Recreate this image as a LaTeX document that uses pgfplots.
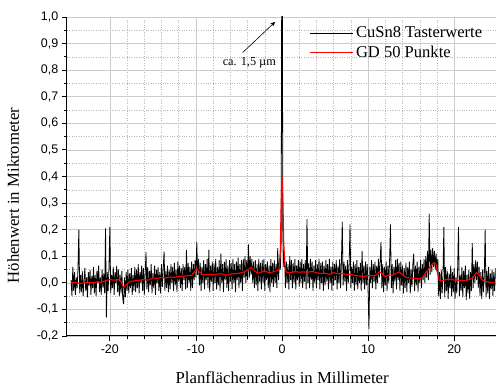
\documentclass[border=0pt]{standalone}
\usepackage{fontspec}
\setmainfont{Liberation Serif}
\newfontfamily\arialfont{Liberation Sans}
\usepackage{pgfplots}
\pgfplotsset{compat=1.18}
\usetikzlibrary{arrows.meta}
\pgfplotsset{
  longline legend/.style={legend image code/.code={\draw[##1] (0pt,0pt) -- (44pt,0pt);}},
}
\begin{document}
\begin{tikzpicture}
\begin{axis}[
  scale only axis, width=430pt, height=320pt,
  xmin=-25, xmax=24.8, ymin=-0.2, ymax=1.0,
  axis lines*=left,
  axis line style={black, line width=1pt},
  xtick={-20,-10,0,10,20}, minor x tick num=4,
  ytick={-0.2,-0.1,0,0.1,0.2,0.3,0.4,0.5,0.6,0.7,0.8,0.9,1.0}, minor y tick num=1,
  grid=both,
  major grid style={gray!40, line width=0.6pt},
  minor grid style={gray!55, dotted, line width=0.5pt},
  tick align=outside, major tick length=5pt, minor tick length=3pt,
  tick style={black, line width=0.8pt},
  /pgf/number format/assume math mode=true,
  ticklabel style={font=\arialfont\fontsize{12.5}{14}\selectfont},
  yticklabel style={/pgf/number format/.cd, fixed, fixed zerofill, precision=1, use comma},
  xlabel={Planflächenradius in Millimeter},
  ylabel={Höhenwert in Mikrometer},
  label style={font=\fontsize{16.8}{19}\selectfont},
  xlabel style={inner sep=0pt, yshift=-14.8pt, xshift=1pt},
  ylabel style={yshift=11pt, xshift=-19pt},
  legend style={draw=none, fill=none, at={(0.981,0.982)}, anchor=north east,
    font=\fontsize{16.6}{19}\selectfont, row sep=3pt},
  legend cell align=left,
  longline legend,
]
\addplot[black, line width=0.8pt] coordinates {
(-24.5,0.01)(-24.4,-0.05)(-24.3,0.06)(-24.2,-0.03)(-24.1,0.04)(-24.0,-0.045)(-23.9,0.02)(-23.8,-0.02)(-23.7,0.05)(-23.6,0.20)
(-23.5,-0.04)(-23.4,0.03)(-23.3,-0.035)(-23.2,0.045)(-23.1,-0.05)(-23.0,0.01)(-22.9,0.055)(-22.8,-0.03)(-22.7,0.02)(-22.6,-0.055)
(-22.5,0.04)(-22.4,-0.01)(-22.3,0.05)(-22.2,-0.045)(-22.1,0.025)(-22.0,-0.02)(-21.9,0.06)(-21.8,-0.04)(-21.7,0.03)(-21.6,-0.05)
(-21.5,0.045)(-21.4,0.0)(-21.3,0.065)(-21.2,-0.035)(-21.1,0.02)(-21.0,-0.045)(-20.9,0.05)(-20.8,-0.02)(-20.7,0.035)(-20.6,-0.04)
(-20.5,0.205)(-20.4,-0.13)(-20.3,0.04)(-20.2,-0.03)(-20.1,0.055)(-20.0,0.21)(-19.9,-0.04)(-19.8,0.03)(-19.7,-0.02)(-19.6,0.06)
(-19.5,-0.045)(-19.4,0.04)(-19.3,0.0)(-19.2,0.065)(-19.1,-0.035)(-19.0,0.05)(-18.9,-0.05)(-18.8,0.03)(-18.7,-0.04)(-18.6,0.045)
(-18.5,-0.06)(-18.4,-0.08)(-18.3,0.02)(-18.2,-0.055)(-18.1,0.04)(-18.0,-0.03)(-17.9,0.05)(-17.8,-0.04)(-17.7,0.035)(-17.6,-0.02)
(-17.5,0.055)(-17.4,-0.045)(-17.3,0.03)(-17.2,-0.03)(-17.1,0.06)
(-17.0,-0.035)(-16.9,0.05)(-16.8,-0.02)(-16.7,0.07)(-16.6,-0.04)(-16.5,0.04)(-16.4,0.0)(-16.3,0.065)(-16.2,-0.03)(-16.1,0.055)
(-16.0,-0.045)(-15.9,0.03)(-15.8,0.115)(-15.7,-0.025)(-15.6,0.06)(-15.5,-0.035)(-15.4,0.045)(-15.3,-0.01)(-15.2,0.07)(-15.1,-0.04)
(-15.0,0.035)(-14.9,-0.02)(-14.8,0.065)(-14.7,-0.045)(-14.6,0.05)(-14.5,0.0)(-14.4,0.06)(-14.3,-0.03)(-14.2,0.04)(-14.1,-0.04)
(-14.0,0.07)(-13.9,-0.015)(-13.8,0.055)(-13.7,0.117)(-13.6,-0.03)(-13.5,0.045)(-13.4,-0.02)(-13.3,0.065)(-13.2,-0.035)(-13.1,0.05)
(-13.0,-0.025)(-12.9,0.07)(-12.8,0.0)(-12.7,0.06)(-12.6,-0.03)(-12.5,0.075)(-12.4,-0.01)(-12.3,0.05)(-12.2,-0.035)(-12.1,0.08)
(-12.0,0.005)(-11.9,0.065)(-11.8,-0.02)(-11.7,0.055)(-11.6,-0.03)(-11.5,0.07)(-11.4,0.01)(-11.3,0.06)(-11.2,-0.025)(-11.1,0.124)
(-11.0,-0.02)(-10.9,0.075)(-10.8,0.0)(-10.7,0.06)(-10.6,-0.03)(-10.5,0.08)
(-10.4,-0.02)(-10.3,0.07)(-10.2,0.01)(-10.1,0.085)(-10.0,0.02)(-9.9,0.154)(-9.8,0.03)(-9.7,0.09)(-9.6,-0.01)(-9.5,0.075)
(-9.4,-0.03)(-9.3,0.06)(-9.2,0.0)(-9.1,0.085)(-9.0,-0.025)(-8.9,0.07)(-8.8,0.01)(-8.7,0.09)(-8.6,-0.02)(-8.5,0.125)
(-8.4,-0.035)(-8.3,0.065)(-8.2,0.005)(-8.1,0.08)(-8.0,-0.03)(-7.9,0.075)(-7.8,0.0)(-7.7,0.09)(-7.6,-0.025)(-7.5,0.06)
(-7.4,-0.01)(-7.3,0.085)(-7.2,-0.03)(-7.1,0.11)(-7.0,0.0)(-6.9,0.07)(-6.8,-0.035)(-6.7,0.08)(-6.6,0.01)(-6.5,0.09)
(-6.4,-0.02)(-6.3,0.065)(-6.2,-0.03)(-6.1,0.085)(-6.0,0.005)(-5.9,0.075)(-5.8,-0.025)(-5.7,0.09)(-5.6,0.0)(-5.5,0.07)
(-5.4,-0.035)(-5.3,0.08)(-5.2,0.01)(-5.1,0.095)(-5.0,-0.02)(-4.9,0.07)(-4.8,0.0)(-4.7,0.085)(-4.6,-0.03)(-4.5,0.09)
(-4.4,0.02)(-4.3,0.1)(-4.2,0.0)(-4.1,0.085)(-4.0,0.01)(-3.9,0.145)(-3.8,0.02)(-3.7,0.1)(-3.6,0.03)(-3.5,0.09)
(-3.4,0.0)(-3.3,0.08)(-3.2,-0.02)(-3.1,0.085)(-3.0,-0.01)(-2.9,0.07)(-2.8,-0.03)(-2.7,0.09)(-2.6,0.005)(-2.5,0.075)
(-2.4,-0.025)(-2.3,0.085)(-2.2,0.0)(-2.1,0.09)(-2.0,-0.03)(-1.9,0.07)(-1.8,0.01)(-1.7,0.08)(-1.6,-0.02)(-1.5,0.065)
(-1.4,-0.035)(-1.3,0.09)(-1.2,0.0)(-1.1,0.075)(-1.0,-0.015)(-0.9,0.085)(-0.8,0.0)(-0.7,0.07)(-0.6,-0.02)(-0.5,0.13)
(-0.4,0.01)(-0.3,0.09)(-0.2,0.05)(-0.1,0.15)(0.0,1.6)(0.1,0.2)(0.2,0.06)
(0.3,0.1)(0.4,-0.02)(0.5,0.08)(0.6,0.0)(0.7,0.07)(0.8,-0.025)(0.9,0.1)(1.0,0.01)(1.1,0.085)(1.2,-0.02)
(1.3,0.075)(1.4,0.0)(1.5,0.09)(1.6,-0.025)(1.7,0.065)(1.8,0.01)(1.9,0.085)(2.0,-0.015)(2.1,0.08)(2.2,0.0)
(2.3,0.09)(2.4,-0.02)(2.5,0.07)(2.6,0.005)(2.7,0.085)(2.8,-0.025)(2.9,0.24)(3.0,0.0)(3.1,0.075)(3.2,-0.02)
(3.3,0.09)(3.4,0.01)(3.5,0.08)(3.6,-0.03)(3.7,0.065)(3.8,0.0)(3.9,0.085)(4.0,-0.02)(4.1,0.07)(4.2,0.01)
(4.3,0.09)(4.4,-0.025)(4.5,0.075)(4.6,0.0)(4.7,0.08)(4.8,-0.03)(4.9,0.065)(5.0,-0.01)(5.1,0.085)(5.2,0.005)
(5.3,0.07)(5.4,-0.025)(5.5,0.09)(5.6,0.0)(5.7,0.06)(5.8,-0.03)(5.9,0.08)(6.0,-0.01)(6.1,0.07)(6.2,0.01)
(6.3,0.085)(6.4,-0.025)(6.5,0.065)(6.6,0.0)(6.7,0.09)(6.8,-0.02)(6.9,0.075)(7.0,0.23)(7.1,-0.01)(7.2,0.08)
(7.3,0.005)(7.4,0.065)(7.5,-0.03)(7.6,0.085)(7.7,0.0)(7.8,0.07)(7.9,0.22)(8.0,-0.02)(8.1,0.06)(8.2,0.0)
(8.3,0.08)(8.4,-0.03)(8.5,0.07)(8.6,-0.01)(8.7,0.085)(8.8,-0.025)(8.9,0.06)(9.0,0.0)(9.1,0.075)(9.2,-0.03)
(9.3,0.12)(9.4,0.0)(9.5,0.065)(9.6,-0.025)(9.7,0.08)(9.8,-0.01)(9.9,0.07)(10.0,-0.03)(10.1,-0.174)(10.2,0.06)
(10.3,0.0)(10.4,0.085)(10.5,-0.02)(10.6,0.07)(10.7,0.005)(10.8,0.08)(10.9,-0.025)(11.0,0.065)
(11.1,0.0)(11.2,0.09)(11.3,0.02)(11.4,0.08)(11.5,0.154)(11.6,-0.02)(11.7,0.07)(11.8,-0.035)(11.9,0.06)(12.0,-0.01)
(12.1,0.08)(12.2,-0.03)(12.3,0.065)(12.4,0.0)(12.5,0.085)(12.6,0.22)(12.7,-0.02)(12.8,0.07)(12.9,-0.04)(13.0,0.06)
(13.1,0.005)(13.2,0.085)(13.3,-0.025)(13.4,0.09)(13.5,0.01)(13.6,0.075)(13.7,-0.03)(13.8,0.08)(13.9,-0.01)(14.0,0.065)
(14.1,-0.04)(14.2,0.055)(14.3,-0.02)(14.4,0.075)(14.5,-0.035)(14.6,0.06)(14.7,0.0)(14.8,0.08)(14.9,-0.04)(15.0,0.05)
(15.1,-0.015)(15.2,0.07)(15.3,0.11)(15.4,-0.03)(15.5,0.065)(15.6,-0.01)(15.7,0.08)(15.8,-0.035)(15.9,0.06)(16.0,0.0)
(16.1,0.085)(16.2,-0.02)(16.3,0.07)(16.4,0.01)
(16.5,0.09)(16.6,0.0)(16.7,0.1)(16.8,0.02)(16.9,0.12)(17.0,0.01)(17.1,0.26)(17.2,0.03)(17.3,0.125)(17.4,0.04)
(17.5,0.13)(17.6,0.06)(17.7,0.12)(17.8,0.05)(17.9,0.11)(18.0,0.04)(18.1,0.09)
(18.2,-0.05)(18.3,0.04)(18.4,-0.06)(18.5,0.05)(18.6,-0.04)(18.7,0.03)(18.8,0.21)(18.9,-0.055)(19.0,0.06)(19.1,-0.03)
(19.2,0.045)(19.3,-0.06)(19.4,0.035)(19.5,-0.02)(19.6,0.065)(19.7,-0.05)(19.8,0.04)(19.9,-0.035)(20.0,0.055)(20.1,-0.06)
(20.2,0.02)(20.3,-0.04)(20.4,0.05)(20.5,0.21)(20.6,-0.05)(20.7,0.03)(20.8,-0.03)(20.9,0.06)(21.0,-0.055)(21.1,0.045)
(21.2,-0.02)(21.3,0.065)(21.4,-0.065)(21.5,0.03)(21.6,-0.04)(21.7,0.05)(21.8,-0.06)(21.9,0.04)(22.0,-0.03)(22.1,0.15)
(22.2,-0.02)(22.3,0.07)(22.4,0.0)(22.5,0.085)(22.6,0.01)(22.7,0.08)(22.8,-0.02)(22.9,0.06)(23.0,-0.05)(23.1,0.04)
(23.2,-0.06)(23.3,0.05)(23.4,-0.035)(23.5,0.03)(23.6,0.2)(23.7,-0.055)(23.8,0.045)(23.9,-0.04)(24.0,0.06)(24.1,-0.06)
(24.2,0.035)(24.3,-0.025)(24.4,0.05)(24.5,-0.05)(24.6,0.04)(24.7,-0.03)(24.8,0.055)
};
\addlegendentry{CuSn8 Tasterwerte}
\addplot[red, line width=1.1pt] coordinates {
(-24.5,0.0)(-24,0.002)(-23.5,-0.003)(-23,0.0)(-22.5,0.001)(-22,0.0)(-21.5,0.003)(-21,0.002)(-20.5,0.008)(-20,0.012)
(-19.5,0.010)(-19,0.012)(-18.7,0.005)(-18.4,-0.018)(-18.1,-0.008)(-17.7,0.005)(-17.2,0.007)(-16.5,0.01)(-16,0.012)(-15.5,0.01)
(-15,0.018)(-14.5,0.017)(-14,0.02)(-13.5,0.018)(-13,0.022)(-12.5,0.02)(-12,0.025)(-11.5,0.024)(-11,0.027)(-10.5,0.028)
(-10.2,0.04)(-9.9,0.055)(-9.6,0.04)(-9.2,0.03)(-8.5,0.032)(-8,0.03)(-7.5,0.033)(-7,0.034)(-6.5,0.028)(-6,0.033)
(-5.5,0.034)(-5,0.036)(-4.5,0.04)(-4.0,0.048)(-3.6,0.058)(-3.2,0.045)(-2.8,0.036)(-2.4,0.04)(-2.05,0.046)(-1.7,0.04)
(-1.4,0.036)(-1.0,0.042)(-0.6,0.046)(-0.35,0.05)(-0.2,0.12)(-0.1,0.3)(0,0.4)(0.1,0.32)(0.2,0.15)(0.35,0.06)
(0.5,0.04)(1,0.038)(1.5,0.042)(2,0.04)(2.5,0.041)(3,0.04)(3.5,0.043)(4,0.038)(4.5,0.035)(5,0.036)
(5.5,0.032)(6,0.038)(6.5,0.034)(7,0.036)(7.5,0.03)(8,0.032)(8.5,0.027)(9,0.026)(9.5,0.022)(10,0.028)
(10.5,0.026)(11,0.03)(11.3,0.042)(11.6,0.035)(12,0.023)(12.4,0.03)(12.8,0.028)(13.3,0.036)(13.6,0.041)(14,0.03)
(14.4,0.02)(15,0.018)(15.5,0.016)(16,0.015)(16.3,0.02)(16.7,0.038)(17.2,0.06)(17.6,0.075)(17.9,0.07)(18.1,0.03)
(18.3,0.008)(18.8,0.01)(19.3,0.014)(19.8,0.012)(20.3,0.008)(20.8,0.01)(21.3,0.009)(21.8,0.012)(22.2,0.02)(22.6,0.038)
(22.9,0.03)(23.2,0.012)(23.6,0.005)(24,0.003)(24.5,0.0)(24.8,0.0)
};
\addlegendentry{GD 50 Punkte}
\draw[black, line width=0.6pt, -{Stealth[length=5pt,width=4pt]}] (axis cs:-4.57,0.866) -- (axis cs:-0.78,0.982);
\node[font=\fontsize{12.3}{14}\selectfont] at (axis cs:-3.8,0.826) {ca. 1,5 µm};
\end{axis}
\path ([yshift=17pt]current axis.north);
\path ([xshift=-67pt]current axis.west);
\path ([yshift=-52pt]current axis.south);
\end{tikzpicture}
\end{document}
